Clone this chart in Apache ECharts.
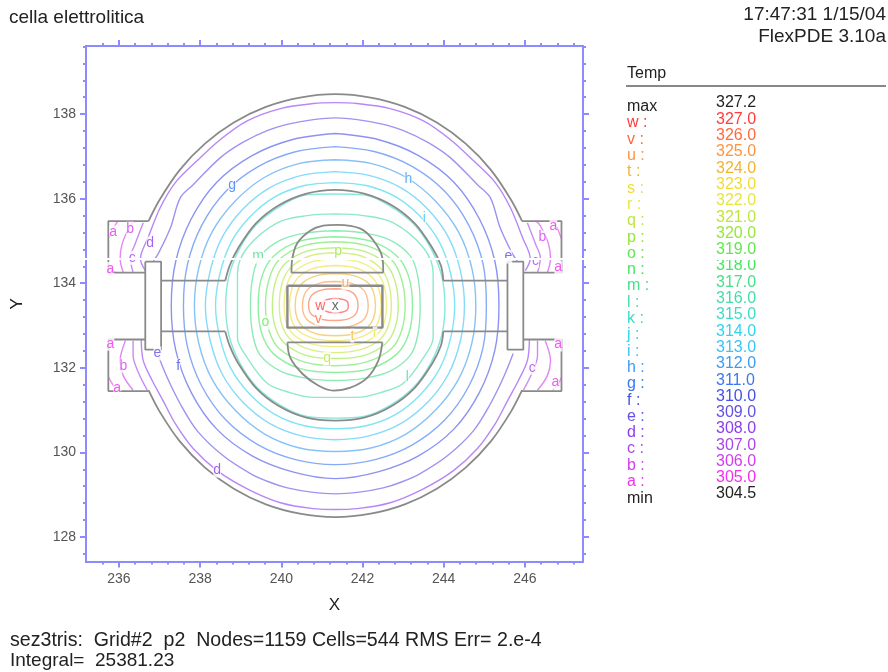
<!DOCTYPE html>
<html>
<head>
<meta charset="utf-8">
<title>cella elettrolitica</title>
<script src="https://cdn.jsdelivr.net/npm/echarts@6/dist/echarts.min.js"></script>
<style>
  html, body { margin: 0; padding: 0; background: #fff; }
  #chart { width: 888px; height: 672px; filter: blur(0.7px); }
</style>
</head>
<body>
<div id="chart"></div>
<script>
// legend rows, top to bottom
const levelLetters = ['w','v','u','t','s','r','q','p','o','n','m','l','k','j','i','h','g','f','e','d','c','b','a'];
const levelValues = ['327.0','326.0','325.0','324.0','323.0','322.0','321.0','320.0','319.0','318.0','317.0','316.0','315.0','314.0','313.0','312.0','311.0','310.0','309.0','308.0','307.0','306.0','305.0'];
const levelColors = ['#ff3c3c','#ff6a40','#ff9440','#f2b430','#f2dc30','#e6e63c','#bee63c','#96e63c','#64e650','#46e664','#46e08c','#46dcaa','#3cdcc8','#30d4ec','#3cc4f8','#3c9cf0','#3c78f0','#4650e6','#6450e6','#8c3cf0','#aa46e6','#d23cf0','#f032f0'];
const maxValue = '327.2';
const minValue = '304.5';

// axis ticks
const xMajor = [236, 238, 240, 242, 244, 246];
const yMajor = [128, 130, 132, 134, 136, 138];
const xMinor = [235.6,236.4,236.8,237.2,237.6,238.4,238.8,239.2,239.6,240.4,240.8,241.2,241.6,242.4,242.8,243.2,243.6,244.4,244.8,245.2,245.6,246.4,246.8,247.2];
const yMinor = [127.6,128.4,128.8,129.2,129.6,130.4,130.8,131.2,131.6,132.4,132.8,133.2,133.6,134.4,134.8,135.2,135.6,136.4,136.8,137.2,137.6,138.4,138.8,139.2,139.6];

// contours, [x, y]
const contourA = [
  [[235.98,135.48],[235.86,135.29],[235.75,135.05]],
  [[235.77,134.42],[235.82,134.32],[235.91,134.25]],
  [[235.75,132.45],[235.86,132.64]],
  [[235.75,131.77],[235.86,131.59],[235.98,131.47]],
  [[246.68,135.48],[246.80,135.29],[246.90,135.05]],
  [[246.89,134.42],[246.84,134.32],[246.75,134.25]],
  [[246.90,132.45],[246.80,132.64]],
  [[246.90,131.77],[246.80,131.59],[246.68,131.47]]
];
const contourB = [
  [[236.40,135.48],[236.28,135.36],[236.08,134.93],[236.03,134.58],[236.11,134.25]],
  [[236.16,132.64],[236.03,132.17],[236.11,131.81],[236.35,131.47]],
  [[246.26,135.48],[246.38,135.36],[246.58,134.93],[246.63,134.58],[246.55,134.25]],
  [[246.50,132.64],[246.63,132.17],[246.55,131.81],[246.31,131.47]]
];
const contourC = [
  [[236.60,135.43],[236.40,134.93],[236.28,134.60],[236.35,134.25]],
  [[236.35,132.64],[236.35,132.29],[236.48,131.89],[236.70,131.47]],
  [[246.06,135.43],[246.26,134.93],[246.38,134.60],[246.31,134.25]],
  [[246.31,132.64],[246.31,132.29],[246.18,131.89],[245.96,131.47]]
];
const contourD = [
  [[236.65,134.30],[236.53,134.58],[236.72,135.08],[237.02,135.79],[237.39,136.38],[237.93,136.90],[238.50,137.40],[239.16,137.84],[239.98,138.13],[240.79,138.25],[241.33,138.27],[241.87,138.25],[242.68,138.13],[243.50,137.84],[244.16,137.40],[244.73,136.90],[245.27,136.38],[245.64,135.79],[245.94,135.08],[246.13,134.58],[246.01,134.30]],
  [[236.55,132.66],[236.60,132.17],[236.82,131.70],[237.09,131.22],[237.39,130.68],[237.83,130.09],[238.42,129.57],[239.16,129.14],[239.98,128.81],[240.79,128.67],[241.33,128.65],[241.87,128.67],[242.68,128.81],[243.50,129.14],[244.24,129.57],[244.83,130.09],[245.27,130.68],[245.57,131.22],[245.84,131.70],[246.06,132.17],[246.11,132.66]]
];
const contourE = [
  [[236.85,134.53],[236.97,134.70],[237.27,135.31],[237.51,136.02],[237.83,136.33],[238.50,136.97],[239.05,137.33],[239.65,137.61],[240.20,137.77],[240.79,137.87],[241.33,137.91],[241.87,137.87],[242.46,137.77],[243.01,137.61],[243.61,137.33],[244.16,136.97],[244.83,136.33],[245.15,136.02],[245.39,135.31],[245.69,134.70],[245.81,134.53]],
  [[236.95,132.34],[237.19,131.77],[237.51,131.15],[237.93,130.51],[238.57,129.92],[239.24,129.50],[239.70,129.30],[240.15,129.16],[240.74,129.06],[241.33,129.02],[241.92,129.06],[242.51,129.16],[242.96,129.30],[243.42,129.50],[244.09,129.92],[244.73,130.51],[245.15,131.15],[245.47,131.77],[245.71,132.34]]
];
const contourF = [[[241.33,137.54],[242.38,137.40],[243.38,137.02],[244.25,136.39],[244.88,135.52],[245.26,134.52],[245.36,133.47],[245.26,132.42],[244.88,131.42],[244.25,130.55],[243.38,129.92],[242.38,129.54],[241.33,129.38],[240.28,129.54],[239.28,129.92],[238.41,130.55],[237.78,131.42],[237.40,132.42],[237.29,133.47],[237.40,134.52],[237.78,135.52],[238.41,136.39],[239.28,137.02],[240.28,137.40],[241.33,137.54]]];
const contourG = [[[241.33,137.23],[242.31,137.11],[243.23,136.76],[244.03,136.17],[244.62,135.37],[244.97,134.45],[245.05,133.47],[244.97,132.49],[244.62,131.57],[244.03,130.77],[243.23,130.18],[242.31,129.83],[241.33,129.71],[240.35,129.83],[239.43,130.18],[238.63,130.77],[238.04,131.57],[237.69,132.49],[237.59,133.47],[237.69,134.45],[238.04,135.37],[238.63,136.17],[239.43,136.76],[240.35,137.11],[241.33,137.23]]];
const contourH = [[[241.33,136.92],[242.23,136.83],[243.08,136.50],[243.80,135.94],[244.36,135.22],[244.69,134.37],[244.79,133.47],[244.69,132.57],[244.36,131.72],[243.80,131.00],[243.08,130.44],[242.23,130.11],[241.33,130.02],[240.43,130.11],[239.58,130.44],[238.86,131.00],[238.30,131.72],[237.97,132.57],[237.86,133.47],[237.97,134.37],[238.30,135.22],[238.86,135.94],[239.58,136.50],[240.43,136.83],[241.33,136.92]]];
const contourI = [[[241.33,136.64],[242.16,136.55],[242.94,136.26],[243.61,135.75],[244.12,135.08],[244.41,134.30],[244.51,133.47],[244.41,132.64],[244.12,131.86],[243.61,131.19],[242.94,130.68],[242.16,130.39],[241.33,130.30],[240.50,130.39],[239.72,130.68],[239.05,131.19],[238.54,131.86],[238.25,132.64],[238.13,133.47],[238.25,134.30],[238.54,135.08],[239.05,135.75],[239.72,136.26],[240.50,136.55],[241.33,136.64]]];
const contourJ = [[[241.33,136.38],[242.09,136.31],[242.82,136.04],[243.43,135.57],[243.90,134.96],[244.17,134.23],[244.27,133.47],[244.17,132.71],[243.90,131.98],[243.43,131.37],[242.82,130.90],[242.09,130.63],[241.33,130.56],[240.57,130.63],[239.84,130.90],[239.23,131.37],[238.76,131.98],[238.49,132.71],[238.38,133.47],[238.49,134.23],[238.76,134.96],[239.23,135.57],[239.84,136.04],[240.57,136.31],[241.33,136.38]]];
const contourK = [[[241.33,136.11],[242.03,136.09],[242.69,135.82],[243.26,135.40],[243.68,134.83],[243.95,134.17],[244.03,133.47],[243.95,132.77],[243.68,132.11],[243.26,131.54],[242.69,131.12],[242.03,130.85],[241.33,130.81],[240.63,130.85],[239.97,131.12],[239.40,131.54],[238.98,132.11],[238.71,132.77],[238.63,133.47],[238.71,134.17],[238.98,134.83],[239.40,135.40],[239.97,135.82],[240.63,136.09],[241.33,136.11]]];
const contourL = [[[241.33,135.64],[242.02,135.60],[242.76,135.43],[243.50,134.84],[243.74,134.23],[243.74,133.47],[243.74,132.71],[243.50,132.24],[243.00,131.63],[242.46,131.42],[241.86,131.30],[241.33,131.30],[240.80,131.30],[240.20,131.42],[239.66,131.63],[239.16,132.24],[238.92,132.71],[238.92,133.47],[238.92,134.23],[239.16,134.84],[239.90,135.43],[240.64,135.60],[241.33,135.64]]];
const contourM = [[[241.33,135.24],[242.03,135.19],[242.68,135.02],[243.18,134.64],[243.36,134.17],[243.42,133.47],[243.36,132.77],[243.18,132.30],[242.68,131.92],[242.03,131.75],[241.33,131.70],[240.63,131.75],[239.98,131.92],[239.48,132.30],[239.30,132.77],[239.24,133.47],[239.30,134.17],[239.48,134.64],[239.98,135.02],[240.63,135.19],[241.33,135.24]]];
const contourN = [[[241.33,135.10],[242.19,135.00],[242.85,134.64],[243.14,134.15],[243.23,133.47],[243.14,132.81],[242.85,132.33],[242.19,131.98],[241.33,131.89],[240.47,131.98],[239.81,132.33],[239.52,132.81],[239.43,133.47],[239.52,134.15],[239.81,134.64],[240.47,135.00],[241.33,135.10]]];
const contourO = [[[241.33,134.98],[242.10,134.89],[242.71,134.56],[242.96,134.10],[243.05,133.47],[242.96,132.87],[242.71,132.45],[242.10,132.14],[241.33,132.05],[240.56,132.14],[239.95,132.45],[239.70,132.87],[239.61,133.47],[239.70,134.10],[239.95,134.56],[240.56,134.89],[241.33,134.98]]];
const contourP = [[[241.33,134.84],[242.03,134.76],[242.57,134.46],[242.80,134.05],[242.88,133.47],[242.80,132.94],[242.57,132.57],[242.03,132.29],[241.33,132.22],[240.63,132.29],[240.09,132.57],[239.86,132.94],[239.78,133.47],[239.86,134.05],[240.09,134.46],[240.63,134.76],[241.33,134.84]]];
const contourQ = [[[241.33,134.72],[241.95,134.65],[242.43,134.37],[242.64,134.00],[242.71,133.47],[242.64,133.00],[242.43,132.67],[241.95,132.43],[241.33,132.36],[240.71,132.43],[240.23,132.67],[240.02,133.00],[239.95,133.47],[240.02,134.00],[240.23,134.37],[240.71,134.65],[241.33,134.72]]];
const contourR = [[[241.33,134.58],[241.90,134.51],[242.34,134.27],[242.53,133.94],[242.59,133.47],[242.53,133.06],[242.34,132.77],[241.90,132.56],[241.33,132.50],[240.76,132.56],[240.32,132.77],[240.13,133.06],[240.07,133.47],[240.13,133.94],[240.32,134.27],[240.76,134.51],[241.33,134.58]]];
const contourS = [[[241.33,134.42],[241.84,134.36],[242.23,134.15],[242.40,133.87],[242.46,133.47],[242.40,133.12],[242.23,132.87],[241.84,132.69],[241.33,132.64],[240.82,132.69],[240.43,132.87],[240.26,133.12],[240.20,133.47],[240.26,133.87],[240.43,134.15],[240.82,134.36],[241.33,134.42]]];
const contourT = [[[241.33,134.23],[241.78,134.18],[242.12,134.02],[242.27,133.79],[242.32,133.47],[242.27,133.17],[242.12,132.96],[241.78,132.80],[241.33,132.76],[240.88,132.80],[240.54,132.96],[240.39,133.17],[240.34,133.47],[240.39,133.79],[240.54,134.02],[240.88,134.18],[241.33,134.23]]];
const contourU = [[[241.33,134.04],[241.69,134.01],[241.98,133.88],[242.10,133.71],[242.14,133.47],[242.10,133.25],[241.98,133.10],[241.69,132.98],[241.33,132.95],[240.97,132.98],[240.68,133.10],[240.56,133.25],[240.52,133.47],[240.56,133.71],[240.68,133.88],[240.97,134.01],[241.33,134.04]]];
const contourV = [[[241.33,133.87],[241.58,133.85],[241.78,133.76],[241.86,133.64],[241.89,133.47],[241.86,133.32],[241.78,133.22],[241.58,133.14],[241.33,133.12],[241.03,133.14],[240.80,133.22],[240.70,133.32],[240.67,133.47],[240.70,133.64],[240.80,133.76],[241.03,133.85],[241.33,133.87]]];
const contourW = [[[241.33,133.64],[241.60,133.59],[241.65,133.47],[241.60,133.35],[241.33,133.30],[241.05,133.35],[240.96,133.47],[241.05,133.59],[241.33,133.64]]];

const contoursByLetter = {
  a: contourA, b: contourB, c: contourC, d: contourD, e: contourE, f: contourF, g: contourG, h: contourH,
  i: contourI, j: contourJ, k: contourK, l: contourL, m: contourM, n: contourN, o: contourO, p: contourP,
  q: contourQ, r: contourR, s: contourS, t: contourT, u: contourU, v: contourV, w: contourW
};

// letters sitting on the contours, [x, y, letter]
const contourLabels = [
  [238.79,136.33,'g'],[243.13,136.47,'h'],[243.52,135.53,'i'],[236.77,134.94,'d'],[236.33,134.60,'c'],
  [236.28,135.29,'b'],[235.86,135.20,'a'],[235.79,134.34,'a'],[239.43,134.63,'m'],[241.40,134.77,'p'],
  [241.58,134.01,'u'],[240.96,133.47,'w'],[240.91,133.16,'v'],[239.61,133.07,'o'],[241.13,132.22,'q'],
  [241.75,132.76,'t'],[242.31,132.81,'r'],[237.46,132.05,'f'],[236.95,132.34,'e'],[243.10,131.77,'l'],
  [238.42,129.57,'d'],[236.11,132.05,'b'],[235.79,132.57,'a'],[235.96,131.53,'a'],[246.70,135.36,'a'],
  [246.43,135.08,'b'],[246.26,134.53,'c'],[246.82,134.37,'a'],[246.82,132.55,'a'],[246.18,132.00,'c'],
  [246.75,131.65,'a'],[245.59,134.63,'e']
];
const maxMark = [241.33, 133.47, 'x'];

// material boundaries
const curvedEdges = [
  [[236.73,135.47],[237.00,135.97],[237.50,136.68],[238.12,137.30],[238.83,137.80],[239.62,138.17],[240.46,138.39],[241.33,138.47],[242.20,138.39],[243.04,138.17],[243.83,137.80],[244.54,137.30],[245.16,136.68],[245.66,135.97],[245.93,135.47]],
  [[236.73,131.47],[237.00,130.97],[237.50,130.26],[238.12,129.64],[238.83,129.14],[239.62,128.77],[240.46,128.55],[241.33,128.47],[242.20,128.55],[243.04,128.77],[243.83,129.14],[244.54,129.64],[245.16,130.26],[245.66,130.97],[245.93,131.47]],
  [[238.62,134.06],[238.73,134.42],[238.95,134.85],[239.38,135.42],[239.95,135.85],[240.62,136.12],[241.33,136.21],[242.04,136.12],[242.71,135.85],[243.28,135.42],[243.71,134.85],[243.93,134.42],[243.99,134.06]],
  [[238.62,132.86],[238.73,132.52],[238.95,132.09],[239.38,131.52],[239.95,131.09],[240.62,130.82],[241.33,130.75],[242.04,130.82],[242.71,131.09],[243.28,131.52],[243.71,132.09],[243.93,132.52],[243.99,132.86]],
  [[240.25,134.25],[240.27,134.58],[240.39,134.94],[240.71,135.24],[241.03,135.36],[241.38,135.38],[241.95,135.29],[242.27,135.01],[242.49,134.60],[242.51,134.25]],
  [[240.15,132.60],[240.22,132.24],[240.52,131.86],[240.91,131.58],[241.28,131.46],[241.70,131.53],[242.12,131.77],[242.39,132.17],[242.49,132.60]]
];
const straightEdges = [
  [[236.73,135.47],[235.74,135.47],[235.74,134.25],[236.65,134.25]],
  [[236.65,132.67],[235.74,132.67],[235.74,131.45],[236.73,131.45]],
  [[236.65,134.51],[237.04,134.51],[237.04,132.43],[236.65,132.43],[236.65,134.51]],
  [[237.04,134.06],[238.62,134.06]],
  [[237.04,132.86],[238.62,132.86]],
  [[245.93,135.47],[246.90,135.47],[246.90,134.25],[245.96,134.25]],
  [[245.96,132.67],[246.90,132.67],[246.90,131.45],[245.93,131.45]],
  [[245.57,134.51],[245.96,134.51],[245.96,132.43],[245.57,132.43],[245.57,134.51]],
  [[245.57,134.06],[243.99,134.06]],
  [[245.57,132.86],[243.99,132.86]],
  [[240.25,134.25],[242.51,134.25]],
  [[240.15,132.60],[242.49,132.60]],
  [[240.15,133.94],[242.49,133.94],[242.49,132.95],[240.15,132.95],[240.15,133.94]]
];

const frameColor = '#8c8cff';
const edgeColor = '#8a8a8a';
const textColor = '#222';
const fontFamily = '"Liberation Sans", Arial, sans-serif';

function colorOf(letter) {
  return levelColors[levelLetters.indexOf(letter)];
}

function lineSeries(points, color, width, smooth, z, opacity) {
  return {
    type: 'line',
    data: points,
    smooth: smooth,
    symbol: 'none',
    silent: true,
    z: z,
    lineStyle: { color: color, width: width, opacity: opacity }
  };
}

const series = [];
levelLetters.forEach(function (letter) {
  contoursByLetter[letter].forEach(function (path) {
    series.push(lineSeries(path, colorOf(letter), 1.4, 0.33, 2, 0.62));
  });
});
curvedEdges.forEach(function (path) {
  series.push(lineSeries(path, edgeColor, 1.8, 0.33, 3, 1));
});
straightEdges.forEach(function (path, i) {
  series.push(lineSeries(path, edgeColor, i === 12 ? 2.4 : 1.8, false, 3, 1));
});
series.push({
  type: 'scatter',
  symbolSize: 0,
  silent: true,
  z: 4,
  data: contourLabels.map(function (d) {
    return { value: d, label: { color: colorOf(d[2]) } };
  }).concat([{ value: maxMark, label: { color: '#444' } }]),
  label: {
    show: true,
    position: 'inside',
    fontFamily: fontFamily,
    fontSize: 14,
    backgroundColor: '#fff',
    padding: 0,
    formatter: function (p) { return p.value[2]; }
  }
});

function axis(position, gridIndex, extent, ticks, tickLength, extra) {
  return Object.assign({
    type: 'value',
    gridIndex: gridIndex,
    position: position,
    min: extent[0],
    max: extent[1],
    splitLine: { show: false },
    axisLine: { show: true, onZero: false, lineStyle: { color: frameColor, width: 2 } },
    axisTick: { show: true, length: tickLength, customValues: ticks, lineStyle: { color: frameColor, width: 2 } },
    axisLabel: { show: false }
  }, extra || {});
}

function tickLabels(values, margin) {
  return {
    axisLabel: {
      show: true,
      customValues: values,
      margin: margin,
      color: '#555',
      fontFamily: fontFamily,
      fontSize: 14,
      formatter: function (v) { return String(v); }
    }
  };
}

const xExtent = [235.19, 247.43];
const yExtent = [127.42, 139.61];

const xAxes = [
  axis('bottom', 0, xExtent, xMajor, 6, Object.assign(tickLabels(xMajor, 11), {
    name: 'X', nameLocation: 'middle', nameGap: 35,
    nameTextStyle: { color: textColor, fontFamily: fontFamily, fontSize: 17 }
  })),
  axis('top', 0, xExtent, xMajor, 6),
  axis('bottom', 1, xExtent, xMinor, 3),
  axis('top', 1, xExtent, xMinor, 3)
];
const yAxes = [
  axis('left', 0, yExtent, yMajor, 6, Object.assign(tickLabels(yMajor, 10), {
    name: 'Y', nameLocation: 'middle', nameGap: 60,
    nameTextStyle: { color: textColor, fontFamily: fontFamily, fontSize: 17 }
  })),
  axis('right', 0, yExtent, yMajor, 6),
  axis('left', 1, yExtent, yMinor, 3),
  axis('right', 1, yExtent, yMinor, 3)
];

function text(str, x, y, color, align, size) {
  return {
    type: 'text',
    x: x,
    y: y + 2,
    z: 50,
    style: {
      text: str,
      fill: color || textColor,
      font: (size || 16) + 'px ' + fontFamily,
      textAlign: align || 'left',
      textVerticalAlign: 'middle'
    }
  };
}

// header, footer and the legend column
const graphics = [
  text('cella elettrolitica', 9, 16, textColor, 'left', 19),
  text('17:47:31 1/15/04', 886, 13, textColor, 'right', 19),
  text('FlexPDE 3.10a', 886, 35, textColor, 'right', 19),
  text('sez3tris:  Grid#2  p2  Nodes=1159 Cells=544 RMS Err= 2.e-4', 10, 639, textColor, 'left', 19.6),
  text('Integral=  25381.23', 10, 659, textColor, 'left', 19),
  text('Temp', 627, 72),
  { type: 'rect', z: 50, shape: { x: 626, y: 85, width: 260, height: 2 }, style: { fill: '#888' } },
  text('max', 627, 105),
  text(maxValue, 716, 101)
];
levelLetters.forEach(function (letter, i) {
  graphics.push(text(letter + ' :', 627, 121 + i * 16.3, levelColors[i]));
  graphics.push(text(levelValues[i], 716, 117.3 + i * 16.3, levelColors[i]));
});
graphics.push(text('min', 627, 497));
graphics.push(text(minValue, 716, 492));
// the white scan gap that runs across the whole picture
graphics.push({ type: 'rect', z: 90, shape: { x: 0, y: 258, width: 888, height: 2 }, style: { fill: '#fff' } });

const chart = echarts.init(document.getElementById('chart'));
chart.setOption({
  animation: false,
  backgroundColor: '#fff',
  grid: [
    { left: 86, top: 46, width: 497, height: 515.5, outerBoundsMode: 'none' },
    { left: 86, top: 46, width: 497, height: 515.5, outerBoundsMode: 'none' }
  ],
  xAxis: xAxes,
  yAxis: yAxes,
  series: series,
  graphic: graphics
});
</script>
</body>
</html>
